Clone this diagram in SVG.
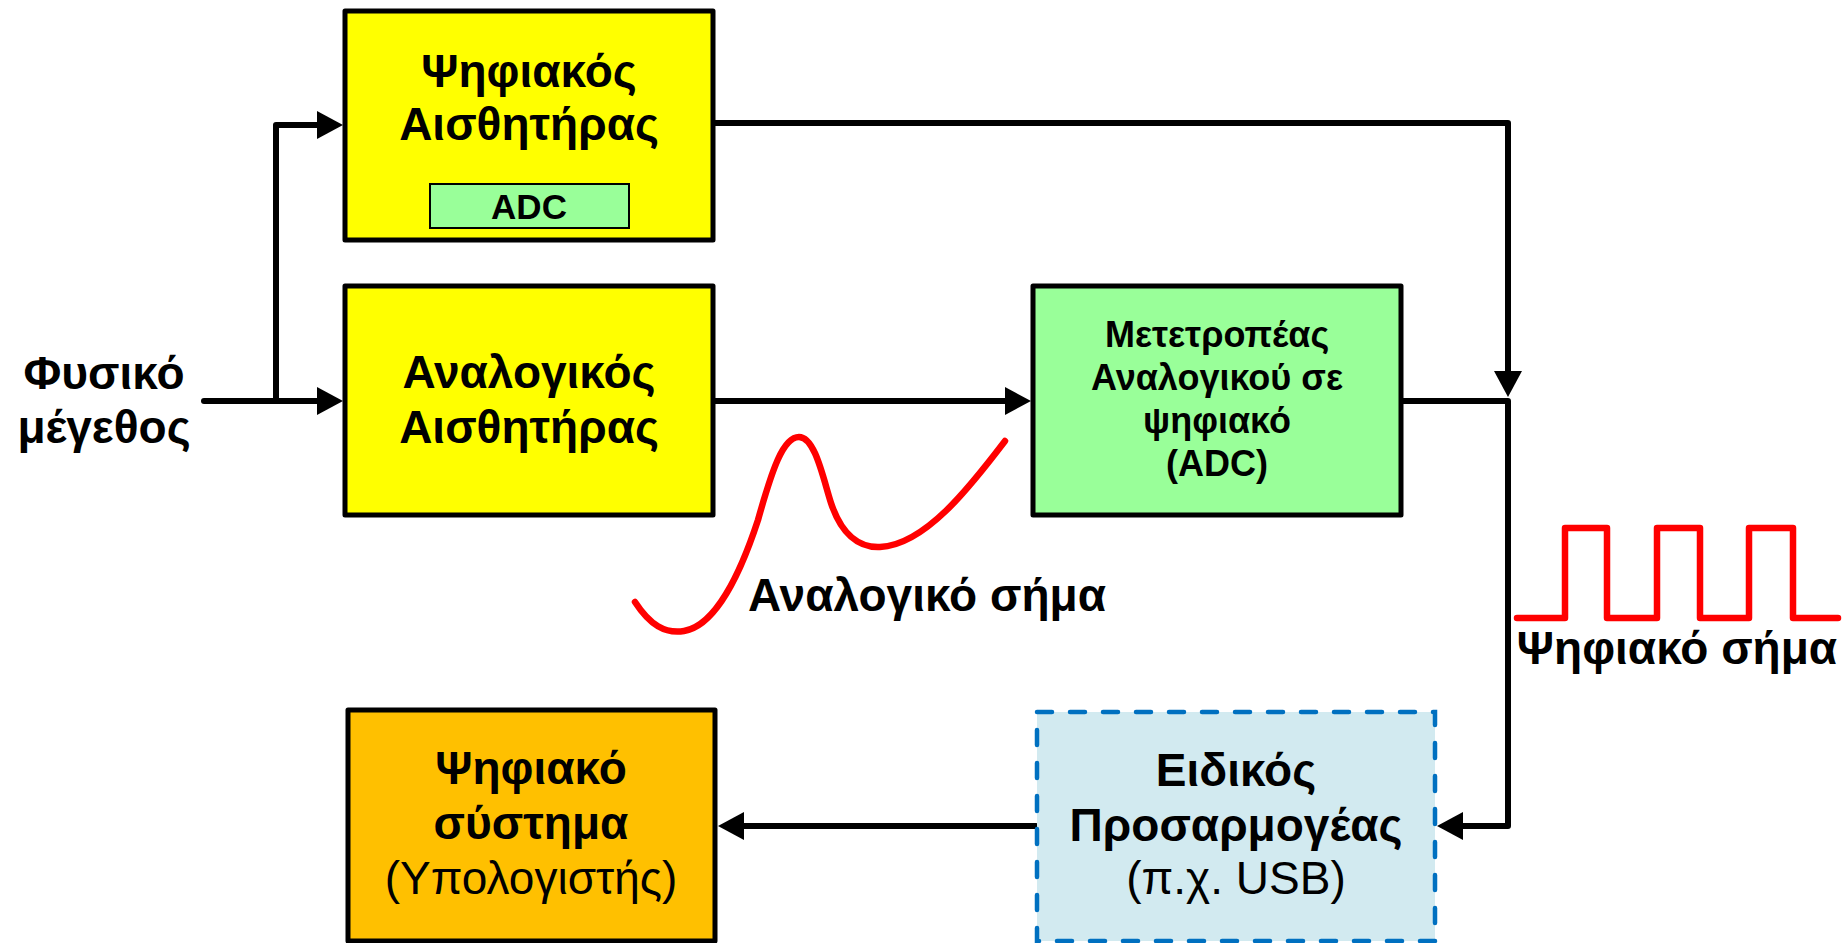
<svg xmlns="http://www.w3.org/2000/svg" width="1844" height="943" viewBox="0 0 1844 943">
<style>
.box{stroke:#000;stroke-width:5;stroke-linejoin:round}
.t{font-family:"Liberation Sans",Arial,sans-serif;font-weight:bold;font-size:46px;text-anchor:middle;fill:#000}
.n{font-weight:normal}
.s{font-size:36px}
.wire{fill:none;stroke:#000;stroke-width:6;stroke-linejoin:round;stroke-linecap:round}
.red{fill:none;stroke:#FF0000;stroke-width:6.5;stroke-linejoin:round;stroke-linecap:round}
</style>
<defs>
<marker id="ah" viewBox="0 0 26 28" markerWidth="26" markerHeight="28" refX="6" refY="14" orient="auto" markerUnits="userSpaceOnUse">
<path d="M0,0 L26,14 L0,28 z" fill="#000"/>
</marker>
</defs>
<rect width="1844" height="943" fill="#fff"/>

<g id="connectors">
<path class="wire" d="M204 401 H323" marker-end="url(#ah)"/>
<path class="wire" d="M276 401 V125 H323" marker-end="url(#ah)"/>
<path class="wire" d="M713 123 H1508 V377" marker-end="url(#ah)"/>
<path class="wire" d="M713 401 H1011" marker-end="url(#ah)"/>
<path class="wire" d="M1401 401 H1508 V826 H1457" marker-end="url(#ah)"/>
<path class="wire" d="M1036 826 H738" marker-end="url(#ah)"/>
</g>

<g id="input-label">
<text class="t" x="104" y="389">Φυσικό</text>
<text class="t" x="104" y="443">μέγεθος</text>
</g>

<g id="digital-sensor">
<rect class="box" x="345" y="11" width="368" height="229" fill="#FFFF00"/>
<text class="t" x="529" y="87">Ψηφιακός</text>
<text class="t" x="529" y="140">Αισθητήρας</text>
<rect x="430" y="184" width="199" height="44" fill="#99FF99" stroke="#000" stroke-width="2"/>
<text class="t" x="529" y="219" style="font-size:35px">ADC</text>
</g>

<g id="analog-sensor">
<rect class="box" x="345" y="286" width="368" height="229" fill="#FFFF00"/>
<text class="t" x="529" y="388">Αναλογικός</text>
<text class="t" x="529" y="443">Αισθητήρας</text>
</g>

<g id="adc-converter">
<rect class="box" x="1033" y="286" width="368" height="229" fill="#99FF99"/>
<text class="t s" x="1217" y="347">Μετετροπέας</text>
<text class="t s" x="1217" y="390">Αναλογικού σε</text>
<text class="t s" x="1217" y="433">ψηφιακό</text>
<text class="t s" x="1217" y="476">(ADC)</text>
</g>

<g id="digital-system">
<rect class="box" x="348" y="710" width="367" height="231" fill="#FFC000"/>
<text class="t" x="531" y="784">Ψηφιακό</text>
<text class="t" x="531" y="839">σύστημα</text>
<text class="t n" x="531" y="894">(Υπολογιστής)</text>
</g>

<g id="adapter">
<rect x="1037" y="712" width="398" height="229" fill="#D2EAF0" stroke="#0070C0" stroke-width="4.5" stroke-dasharray="15 18" stroke-linecap="round"/>
<text class="t" x="1236" y="786">Ειδικός</text>
<text class="t" x="1236" y="841">Προσαρμογέας</text>
<text class="t n" x="1236" y="894">(π.χ. USB)</text>
</g>

<g id="analog-signal">
<path class="red" d="M635 602 C650 625 665 634 684 631 C715 626 740 575 758 520 C772 470 783 437 799 437 C815 437 823 478 831 503 C841 533 858 548 880 547 C925 545 970 487 1005 441"/>
<text class="t" x="927" y="611">Αναλογικό σήμα</text>
</g>

<g id="digital-signal">
<path class="red" d="M1517 618 H1565 V528 H1607 V618 H1657 V528 H1700 V618 H1749 V528 H1793 V618 H1838" stroke-width="7"/>
<text class="t" x="1677" y="664">Ψηφιακό σήμα</text>
</g>
</svg>
